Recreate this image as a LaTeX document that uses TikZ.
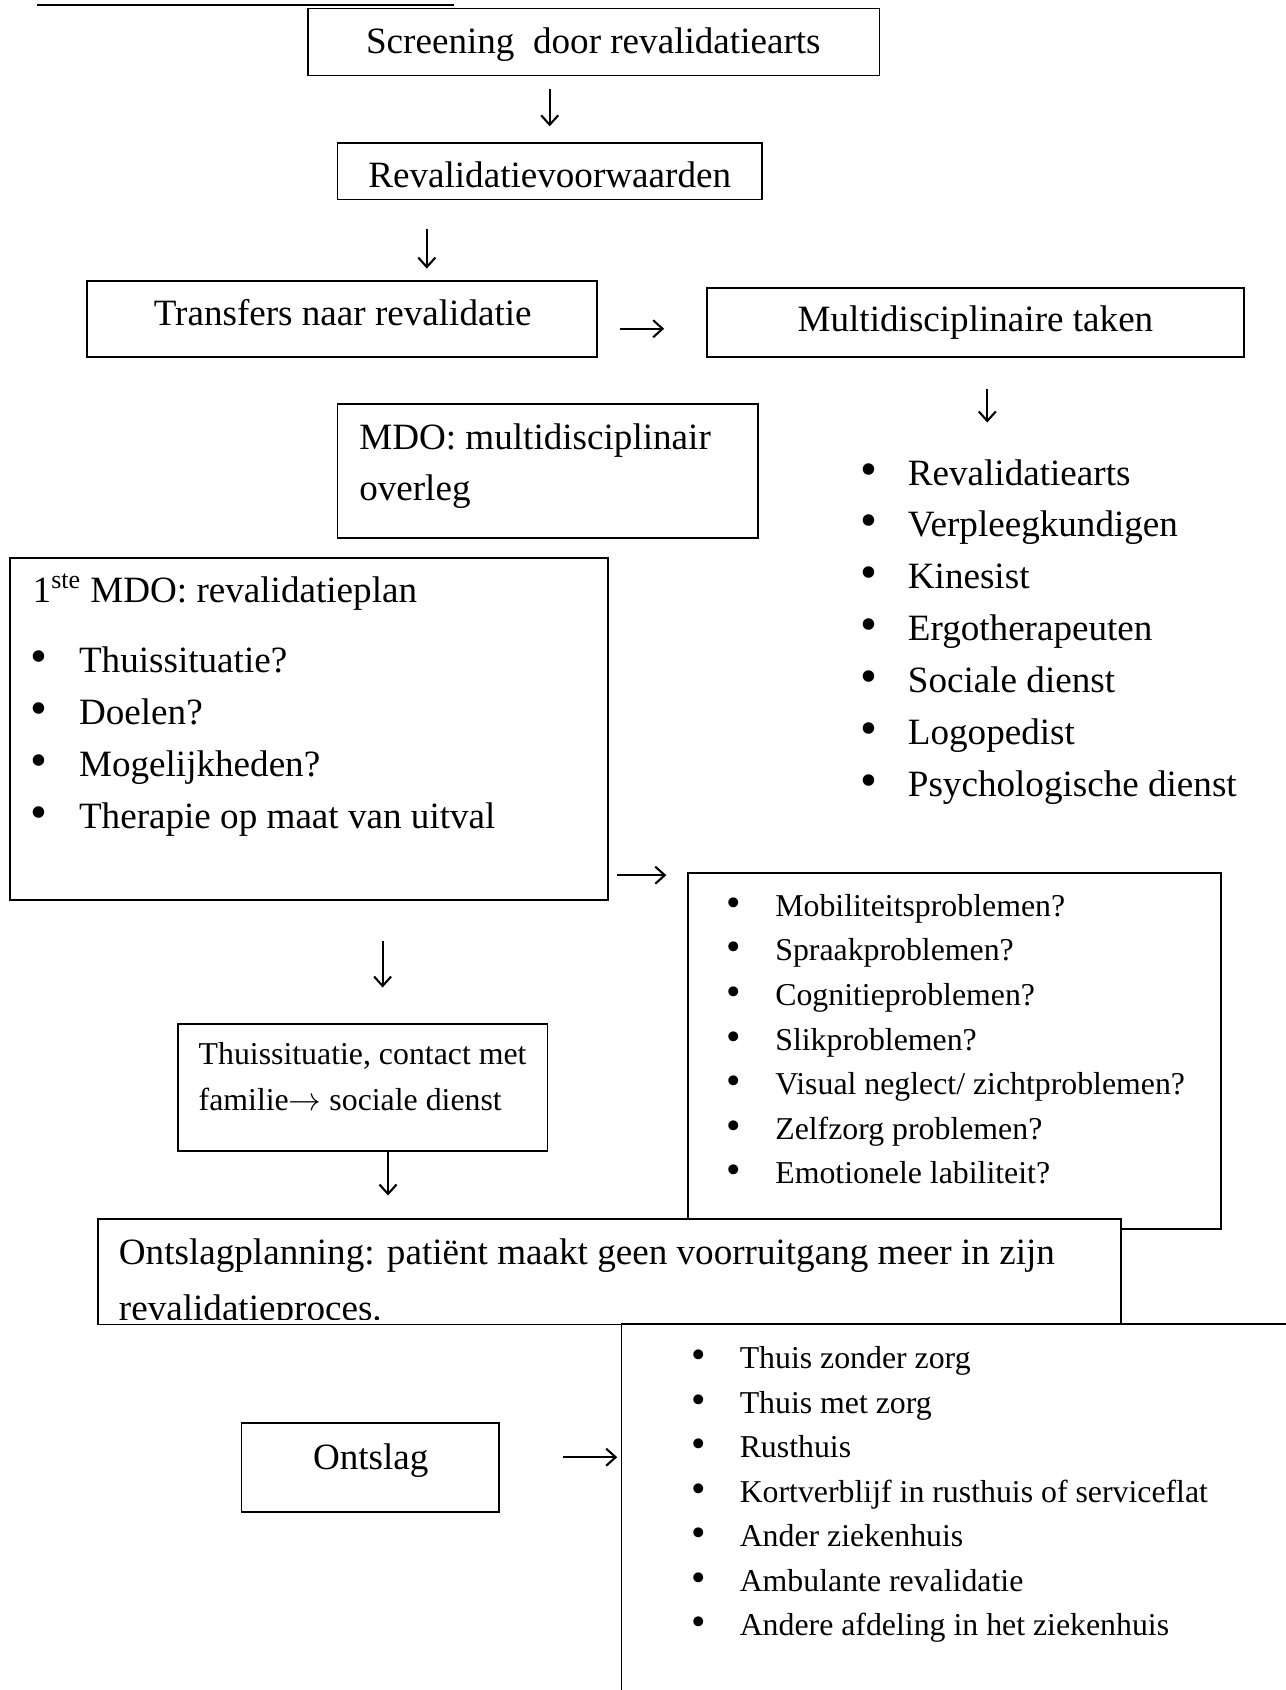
\documentclass[tikz,border=0pt]{standalone}
\usepackage{fontspec}
\setmainfont{Liberation Serif}
\usetikzlibrary{arrows.meta,fit}

\tikzset{
  box/.style={draw, line width=.9pt, inner sep=0pt},
  big/.style={font=\fontsize{19.6}{27.3}\selectfont, inner sep=0pt},
  small/.style={font=\fontsize{16.8}{23.6}\selectfont, inner sep=0pt},
  arr/.style={line width=1.1pt, -{Straight Barb[length=5pt,width=9pt]}},
}
\newcommand{\blt}{\scalebox{1.3}{\textbullet}}

\begin{document}
\begin{tikzpicture}[x=0.02cm, y=-0.02cm]
\useasboundingbox (0,0) rectangle (1193,1568);

\draw [line width=1.2pt] (34,4.6) -- (421,4.6);

% boxes
\node [box, fit={(286,8) (816,70)}] (screen) {};
\node [box, fit={(313,133) (707,185)}] (rv) {};
\node [box, fit={(81,261) (554,331)}] (tr) {};
\node [box, fit={(656,267) (1154,331)}] (mt) {};
\node [box, fit={(313,375) (703,499)}] (mdo) {};
\node [box, fit={(9,518) (564,835)}] (plan) {};
\node [box, fit={(638,810) (1133,1140)}] (prob) {};
\node [box, fit={(165,950) (508,1068)}] (thuis) {};
\node [box, fill=white, fit={(91,1131) (1040,1229)}] (ontpl) {};
\node [box, fit={(224,1320) (463,1403)}] (ontslag) {};
\node [inner sep=0pt, fit={(577,1229) (1193,1568)}] (dest) {};
\draw [line width=.9pt] (dest.south west) -- (dest.north west) -- (dest.north east);

% texts
\node [big, anchor=base] (screen-t) at (550.5,50) {Screening\ \ door revalidatiearts};
\node [big, anchor=base] (rv-t) at (510,174) {Revalidatievoorwaarden};
\node [big, anchor=base] (tr-t) at (318,302) {Transfers naar revalidatie};
\node [big, anchor=base] (mt-t) at (905,308) {Multidisciplinaire taken};
\node [big, anchor=base west] (mdo-t1) at (333,417) {MDO: multidisciplinair};
\node [big, anchor=base west] (mdo-t2) at (333,464) {overleg};
\node [big, anchor=base west] (plan-t) at (30,559) {1\textsuperscript{ste} MDO: revalidatieplan};
\node [small, anchor=base west] (thuis-t1) at (184,988) {Thuissituatie, contact met};
\node [small, anchor=base west] (thuis-t2) at (184,1030) {familie$\rightarrow$ sociale dienst};
\begin{scope}
  \clip (ontpl.north west) rectangle ([yshift=.12cm]ontpl.south east);
  \node [big, anchor=base west] (ontpl-t1) at (110,1173) {Ontslagplanning: patiënt maakt geen voorruitgang meer in zijn};
  \node [big, anchor=base west] (ontpl-t2) at (110,1225) {revalidatieproces.};
\end{scope}
\node [big, anchor=base] (ontslag-t) at (344,1363) {Ontslag};

% lists
\foreach \t [count=\i] in {Revalidatiearts, Verpleegkundigen, Kinesist, Ergotherapeuten,
                           Sociale dienst, Logopedist, Psychologische dienst}
{
  \node [big, anchor=base] (st-b\i) at (806,401.8+48.2*\i) {\blt};
  \node [big, anchor=base west] (st-\i) at (842,401.8+48.2*\i) {\t};
}
\foreach \t [count=\i] in {Thuissituatie?, Doelen?, Mogelijkheden?, Therapie op maat van uitval}
{
  \node [big, anchor=base] (plan-b\i) at (36,575.7+48.3*\i) {\blt};
  \node [big, anchor=base west] (plan-\i) at (73,575.7+48.3*\i) {\t};
}
\foreach \t [count=\i] in {Mobiliteitsproblemen?, Spraakproblemen?, Cognitieproblemen?, Slikproblemen?,
                           Visual neglect/ zichtproblemen?, Zelfzorg problemen?, Emotionele labiliteit?}
{
  \node [small, anchor=base] (prob-b\i) at (681,808.6+41.4*\i) {\blt};
  \node [small, anchor=base west] (prob-\i) at (719,808.6+41.4*\i) {\t};
}
\foreach \t [count=\i] in {Thuis zonder zorg, Thuis met zorg, Rusthuis, Kortverblijf in rusthuis of serviceflat,
                           Ander ziekenhuis, Ambulante revalidatie, Andere afdeling in het ziekenhuis}
{
  \node [small, anchor=base] (dest-b\i) at (648,1228.7+41.3*\i) {\blt};
  \node [small, anchor=base west] (dest-\i) at (686,1228.7+41.3*\i) {\t};
}

% arrows
\coordinate (c2) at (396,0);
\coordinate (c3) at (0,305);
\coordinate (c4) at (916,392);
\coordinate (c5) at (0,812);
\coordinate (c6) at (355,0);
\coordinate (c7) at (360,0);
\coordinate (c8) at (0,1352);
\draw [arr, shorten <=.24cm, shorten >=.3cm] (screen.south -| rv.north) -- (rv.north);
\draw [arr, shorten <=.54cm, shorten >=.22cm] (rv.south -| c2) -- (tr.north -| c2);
\draw [arr, shorten <=.4cm, shorten >=.78cm] (tr.east |- c3) -- (mt.west |- c3);
\draw [arr, shorten <=.58cm] (mt.south -| c4) -- (c4);
\draw [arr, shorten <=.16cm, shorten >=.38cm] (plan.east |- c5) -- (prob.west |- c5);
\draw [arr, shorten <=.74cm, shorten >=.66cm] (plan.south -| c6) -- (thuis.north -| c6);
\draw [arr, shorten >=.42cm] (thuis.south -| c7) -- (ontpl.north -| c7);
\draw [arr, shorten <=1.18cm, shorten >=.08cm] (ontslag.east |- c8) -- (dest.west |- c8);

\end{tikzpicture}
\end{document}
